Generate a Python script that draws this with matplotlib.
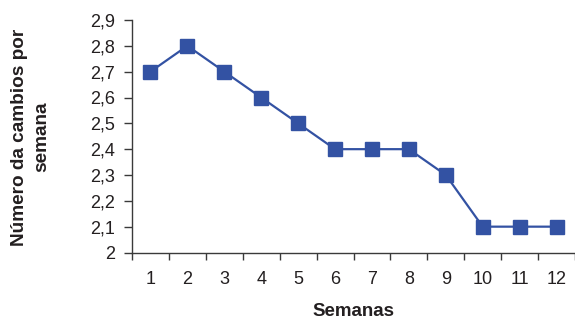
import matplotlib
matplotlib.use("Agg")
import matplotlib.pyplot as plt
from matplotlib.ticker import FixedLocator, FixedFormatter, FuncFormatter, NullFormatter
import numpy as np

weeks = [1, 2, 3, 4, 5, 6, 7, 8, 9, 10, 11, 12]
changes = [2.7, 2.8, 2.7, 2.6, 2.5, 2.4, 2.4, 2.4, 2.3, 2.1, 2.1, 2.1]
y_ticks = [2.0, 2.1, 2.2, 2.3, 2.4, 2.5, 2.6, 2.7, 2.8, 2.9]

BLUE = "#3352a3"
INK = "#231f20"
AXIS = "#3a3a3a"

plt.rcParams["font.family"] = ["Liberation Sans", "DejaVu Sans"]
plt.rcParams["font.size"] = 13

fig = plt.figure(figsize=(5.75, 3.2), dpi=100)
ax = fig.add_axes([132 / 575, 1 - 252.5 / 320, 443 / 575, 232.5 / 320])

ax.plot(weeks, changes, color=BLUE, linewidth=1.6, marker="s",
        markersize=9.5, markerfacecolor=BLUE, markeredgecolor=BLUE, clip_on=False)

ax.set_xlim(0.5, 12.5)
ax.set_ylim(2.0, 2.9)

for side in ["top", "right"]:
    ax.spines[side].set_visible(False)
for side in ["left", "bottom"]:
    ax.spines[side].set_color(AXIS)
    ax.spines[side].set_linewidth(1.0)

# boundary ticks are the major ones, category labels ride on minor ticks
ax.xaxis.set_major_locator(FixedLocator(np.arange(0.5, 13, 1)))
ax.xaxis.set_major_formatter(NullFormatter())
ax.xaxis.set_minor_locator(FixedLocator(weeks))
ax.xaxis.set_minor_formatter(FixedFormatter([str(w) for w in weeks]))
ax.tick_params(axis="x", which="major", length=5, width=1.0, direction="out", color=AXIS)
ax.tick_params(axis="x", which="minor", length=0, pad=13, labelsize=13, labelcolor=INK)

ax.set_yticks(y_ticks)
ax.yaxis.set_major_formatter(FuncFormatter(lambda v, p: f"{v:g}".replace(".", ",")))
ax.tick_params(axis="y", length=6, width=1.0, direction="out", color=AXIS, pad=6,
               labelsize=13, labelcolor=INK)

fig.text(31 / 575, 1 - 137 / 320, "Número da cambios por\nsemana", rotation=90,
         ha="center", va="center", ma="center", fontweight="bold", fontsize=13.7,
         color=INK, linespacing=1.4)
fig.text(353.5 / 575, 1 - 311 / 320, "Semanas", ha="center", va="center",
         fontweight="bold", fontsize=13.5, color=INK)

fig.savefig("out.png", dpi=100)
